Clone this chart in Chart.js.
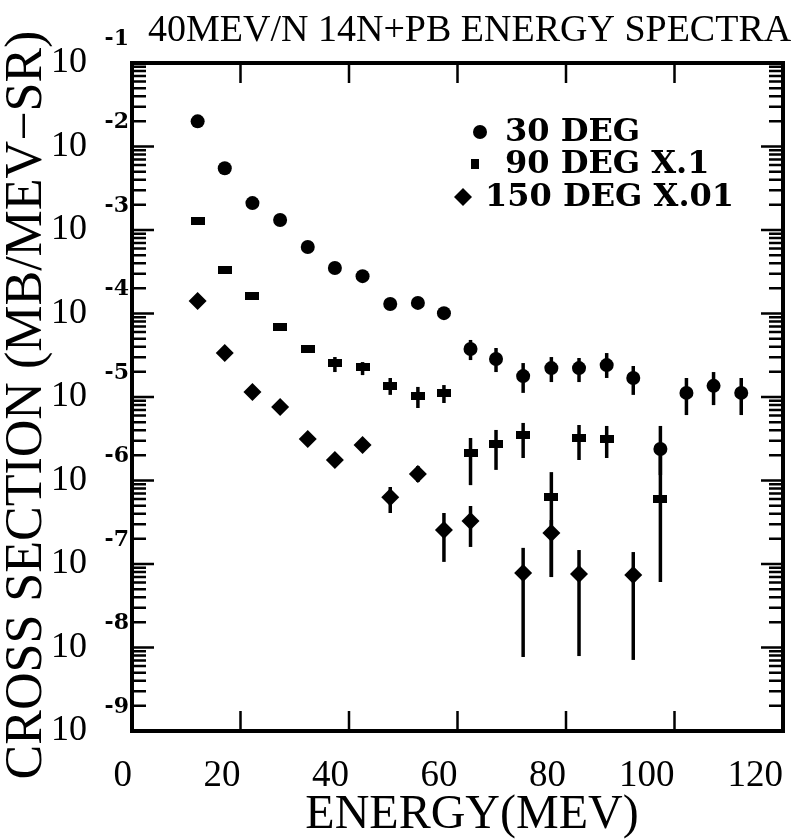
<!DOCTYPE html>
<html>
<head>
<meta charset="utf-8">
<title>40MEV/N 14N+PB Energy Spectra</title>
<script src="https://cdn.jsdelivr.net/npm/chart.js@4.4.1/dist/chart.umd.min.js"></script>
<style>
  html, body { margin: 0; padding: 0; background: #fff; }
  #spectra { display: block; }
</style>
</head>
<body>
<canvas id="spectra" width="807" height="839"></canvas>
<script>
// texts
var titleText = '40MEV/N 14N+PB ENERGY SPECTRA';
var xTitle = 'ENERGY(MEV)';
var yTitle = 'CROSS SECTION (MB/MEV\u2212SR)';
var legendLabels = ['30 DEG', '90 DEG X.1', '150 DEG X.01'];

// axis ticks
var xTicks = [0, 20, 40, 60, 80, 100, 120];
var yExponents = [-9, -8, -7, -6, -5, -4, -3, -2, -1];

// energy bins (MeV)
var energy = [12.1, 17.1, 22.2, 27.3, 32.4, 37.4, 42.5, 47.6, 52.7, 57.5,
  62.4, 67.1, 72.1, 77.3, 82.4, 87.5, 92.4, 97.4, 102.2, 107.2, 112.3];

// 30 deg
var deg30 = [2.0e-2, 5.5e-3, 2.1e-3, 1.32e-3, 6.25e-4, 3.5e-4, 2.8e-4, 1.3e-4, 1.34e-4, 1.01e-4,
  3.76e-5, 2.85e-5, 1.78e-5, 2.22e-5, 2.22e-5, 2.41e-5, 1.69e-5, 2.38e-6, 1.12e-5, 1.36e-5, 1.12e-5];
var deg30Lo = [null, null, null, null, null, null, null, null, null, null,
  2.77e-5, 1.99e-5, 1.12e-5, 1.51e-5, 1.51e-5, 1.69e-5, 1.06e-5, 1.16e-6, 6.08e-6, 8.0e-6, 6.08e-6];
var deg30Hi = [null, null, null, null, null, null, null, null, null, null,
  4.82e-5, 3.86e-5, 2.55e-5, 3.01e-5, 2.93e-5, 3.36e-5, 2.35e-5, 4.5e-6, 1.69e-5, 1.99e-5, 1.69e-5];

// 90 deg x 0.1
var deg90 = [1.28e-3, 3.32e-4, 1.62e-4, 6.9e-5, 3.76e-5, 2.55e-5, 2.29e-5, 1.36e-5, 1.03e-5, 1.12e-5,
  2.13e-6, 2.73e-6, 3.5e-6, 6.3e-7, 3.2e-6, 3.1e-6, null, 6.0e-7, null, null, null];
var deg90Lo = [null, null, null, null, null, 1.99e-5, 1.83e-5, 1.06e-5, 7.38e-6, 8.47e-6,
  8.8e-7, 1.34e-6, 1.86e-6, 6.98e-8, 1.76e-6, 1.86e-6, null, 6.08e-8, null, null, null];
var deg90Hi = [null, null, null, null, null, 3.01e-5, 2.62e-5, 1.69e-5, 1.32e-5, 1.39e-5,
  3.23e-6, 4.03e-6, 4.89e-6, 1.26e-6, 4.62e-6, 4.5e-6, null, 2.66e-6, null, null, null];

// 150 deg x 0.01
var deg150 = [1.41e-4, 3.37e-5, 1.15e-5, 7.6e-6, 3.14e-6, 1.76e-6, 2.66e-6, 6.3e-7, 1.2e-6, 2.55e-7,
  3.27e-7, null, 7.8e-8, 2.35e-7, 7.6e-8, null, 7.4e-8, null, null, null, null];
var deg150Lo = [null, null, null, null, null, null, null, 4.08e-7, 9.6e-7, 1.06e-7,
  1.6e-7, null, 7.7e-9, 6.98e-8, 7.9e-9, null, 7.1e-9, null, null, null, null];
var deg150Hi = [null, null, null, null, null, null, null, 8.36e-7, 1.49e-6, 4.08e-7,
  4.95e-7, null, 1.56e-7, 3.37e-7, 1.47e-7, null, 1.39e-7, null, null, null, null];

var serif = '"Liberation Serif", "DejaVu Serif", serif';
var boldSerif = '"DejaVu Serif", serif';

function points(vals) {
  var out = [];
  energy.forEach(function (e, i) {
    if (vals[i] != null) out.push({ x: e, y: vals[i] });
  });
  return out;
}

function isDecade(v) {
  var l = Math.log10(v);
  return Math.abs(l - Math.round(l)) < 1e-6;
}

function logTickValues() {
  var vals = [];
  yExponents.forEach(function (e) {
    vals.push(Math.pow(10, e));
    if (e < yExponents[yExponents.length - 1]) {
      for (var m = 2; m <= 9; m++) vals.push(Number((m * Math.pow(10, e)).toPrecision(3)));
    }
  });
  return vals;
}

// small bar marker used for the 90 deg points
function barMark(w, h) {
  var c = document.createElement('canvas');
  c.width = w;
  c.height = h;
  var g = c.getContext('2d');
  g.fillStyle = '#000';
  g.fillRect(0, 0, w, h);
  return c;
}
var bar90 = barMark(14, 8);
var bar90Legend = barMark(8, 10);

var errorSets = [
  { lo: deg30Lo, hi: deg30Hi },
  { lo: deg90Lo, hi: deg90Hi },
  { lo: deg150Lo, hi: deg150Hi }
];

var decor = {
  id: 'decor',
  beforeDatasetsDraw: function (chart) {
    var ctx = chart.ctx, xs = chart.scales.x, ys = chart.scales.y;
    ctx.save();
    ctx.strokeStyle = '#000';
    ctx.lineWidth = 3.5;
    errorSets.forEach(function (s) {
      energy.forEach(function (e, i) {
        if (s.lo[i] == null) return;
        var px = xs.getPixelForValue(e);
        ctx.beginPath();
        ctx.moveTo(px, ys.getPixelForValue(s.lo[i]));
        ctx.lineTo(px, ys.getPixelForValue(s.hi[i]));
        ctx.stroke();
      });
    });
    ctx.restore();
  },
  afterDraw: function (chart) {
    var ctx = chart.ctx, a = chart.chartArea;
    var xs = chart.scales.x, ys = chart.scales.y;
    ctx.save();
    ctx.strokeStyle = '#000';
    ctx.fillStyle = '#000';

    // frame
    ctx.lineWidth = 4;
    ctx.strokeRect(a.left, a.top, a.right - a.left, a.bottom - a.top);

    // inward ticks on the log axis, left and right
    ctx.lineWidth = 2.5;
    ys.ticks.forEach(function (t) {
      var py = ys.getPixelForValue(t.value);
      var len = isDecade(t.value) ? 22 : 14;
      ctx.beginPath();
      ctx.moveTo(a.left, py); ctx.lineTo(a.left + len, py);
      ctx.moveTo(a.right, py); ctx.lineTo(a.right - len, py);
      ctx.stroke();
    });
    // inward ticks on the energy axis, bottom and top
    xs.ticks.forEach(function (t) {
      if (t.value === xs.min || t.value === xs.max) return;
      var px = xs.getPixelForValue(t.value);
      ctx.beginPath();
      ctx.moveTo(px, a.bottom); ctx.lineTo(px, a.bottom - 20);
      ctx.moveTo(px, a.top); ctx.lineTo(px, a.top + 20);
      ctx.stroke();
    });

    // exponents of the 10 labels
    ctx.font = 'bold 22px ' + boldSerif;
    ctx.textAlign = 'right';
    ctx.textBaseline = 'middle';
    yExponents.forEach(function (e) {
      ctx.fillText(String(e), a.left - 3, ys.getPixelForValue(Math.pow(10, e)) - 24);
    });

    // titles
    ctx.font = '38px ' + serif;
    ctx.textAlign = 'left';
    ctx.fillText(titleText, 148, 31);

    ctx.font = '48px ' + serif;
    ctx.textAlign = 'center';
    ctx.fillText(xTitle, 472, 815);

    ctx.save();
    ctx.translate(27, 405);
    ctx.rotate(-Math.PI / 2);
    ctx.font = '52px ' + serif;
    ctx.fillText(yTitle, 0, 0);
    ctx.restore();

    // legend
    ctx.font = 'bold 32px ' + boldSerif;
    ctx.textAlign = 'left';
    ctx.beginPath();
    ctx.arc(480, 132, 7, 0, Math.PI * 2);
    ctx.fill();
    ctx.fillText(legendLabels[0], 505, 133);
    ctx.drawImage(bar90Legend, 475 - 4, 164 - 5);
    ctx.fillText(legendLabels[1], 505, 165);
    ctx.beginPath();
    ctx.moveTo(463 - 9, 197); ctx.lineTo(463, 188);
    ctx.lineTo(463 + 9, 197); ctx.lineTo(463, 206);
    ctx.closePath();
    ctx.fill();
    ctx.fillText(legendLabels[2], 485, 198);

    ctx.restore();
  }
};

var chart = new Chart(document.getElementById('spectra'), {
  type: 'scatter',
  data: {
    datasets: [{
      label: legendLabels[0],
      data: points(deg30),
      pointStyle: 'circle',
      pointRadius: 7,
      pointHoverRadius: 7,
      backgroundColor: '#000',
      borderWidth: 0
    }, {
      label: legendLabels[1],
      data: points(deg90),
      pointStyle: bar90,
      backgroundColor: '#000',
      borderWidth: 0
    }, {
      label: legendLabels[2],
      data: points(deg150),
      pointStyle: 'rectRot',
      pointRadius: 9,
      pointHoverRadius: 9,
      backgroundColor: '#000',
      borderWidth: 0
    }]
  },
  options: {
    responsive: false,
    animation: false,
    devicePixelRatio: 1,
    events: [],
    layout: { padding: { top: 63, right: 24, left: 0, bottom: 0 } },
    plugins: {
      legend: { display: false },
      tooltip: { enabled: false },
      title: { display: false }
    },
    scales: {
      x: {
        type: 'linear',
        min: 0,
        max: 120,
        afterBuildTicks: function (scale) {
          scale.ticks = xTicks.map(function (v) { return { value: v }; });
        },
        afterFit: function (scale) { scale.height = 108; },
        grid: { display: false },
        border: { display: false },
        ticks: {
          autoSkip: false,
          maxRotation: 0,
          align: 'end',
          padding: 15,
          color: '#000',
          font: { family: serif, size: 37 }
        }
      },
      y: {
        type: 'logarithmic',
        min: 1e-9,
        max: 1e-1,
        afterBuildTicks: function (scale) {
          scale.ticks = logTickValues().map(function (v) { return { value: v }; });
        },
        afterFit: function (scale) { scale.width = 132; },
        grid: { display: false },
        border: { display: false },
        ticks: {
          autoSkip: false,
          padding: 37,
          color: '#000',
          font: { family: serif, size: 36 },
          callback: function (v) { return isDecade(v) ? '10' : ''; }
        }
      }
    }
  },
  plugins: [decor]
});
</script>
</body>
</html>
